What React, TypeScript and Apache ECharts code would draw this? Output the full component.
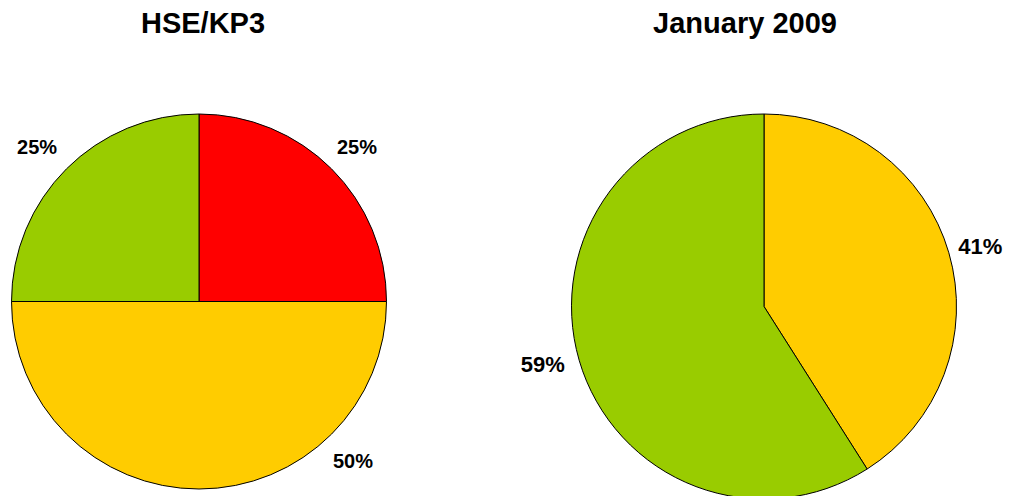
import React, { useEffect, useRef } from "react";
import * as echarts from "echarts";

const leftTitle = "HSE/KP3";
const rightTitle = "January 2009";
const leftNames = ["Red", "Yellow", "Green"];
const leftValues = [25, 50, 25];
const leftColors = ["#FF0000", "#FFCC00", "#99CC00"];
const rightNames = ["Yellow", "Green"];
const rightValues = [41, 59];
const rightColors = ["#FFCC00", "#99CC00"];

const FONT = "'Liberation Sans', Arial, Helvetica, sans-serif";

function pieSeries(names: string[], values: number[], colors: string[], center: number[], r: number) {
  return {
    type: "pie",
    center,
    radius: [0, r],
    startAngle: 90,
    clockwise: true,
    silent: true,
    label: { show: false },
    labelLine: { show: false },
    data: values.map((v, i) => ({
      name: names[i],
      value: v,
      itemStyle: { color: colors[i], borderColor: "#000", borderWidth: 1 },
    })),
  };
}

function labelRing(
  names: string[],
  values: number[],
  center: number[],
  r: number,
  fontSize: number,
  offsets: Record<number, number[]>
) {
  return {
    type: "pie",
    center,
    radius: [r * 1.13, r * 1.19],
    startAngle: 90,
    clockwise: true,
    silent: true,
    itemStyle: { color: "transparent", borderWidth: 0 },
    labelLine: { show: false },
    label: {
      show: true,
      position: "inside",
      formatter: "{c}%",
      color: "#000",
      fontFamily: FONT,
      fontWeight: "bold",
      fontSize,
    },
    data: values.map((v, i) => ({
      name: names[i],
      value: v,
      label: offsets[i] ? { offset: offsets[i] } : undefined,
    })),
  };
}

export default function App() {
  const ref = useRef<HTMLDivElement>(null);
  useEffect(() => {
    if (!ref.current) return;
    const chart = echarts.init(ref.current, null, { renderer: "svg" });
    chart.setOption({
      animation: false,
      backgroundColor: "#fff",
      title: [
        {
          text: leftTitle,
          left: 198,
          top: 3,
          textAlign: "center",
          textStyle: { fontFamily: FONT, fontWeight: "bold", fontSize: 29, color: "#000" },
        },
        {
          text: rightTitle,
          left: 740,
          top: 3,
          textAlign: "center",
          textStyle: { fontFamily: FONT, fontWeight: "bold", fontSize: 29, color: "#000" },
        },
      ],
      series: [
        pieSeries(leftNames, leftValues, leftColors, [199, 301.5], 187.5),
        labelRing(leftNames, leftValues, [199, 301.5], 187.5, 20, {
          0: [2, 1],
          1: [154, -61],
          2: [-6, 1],
        }),
        pieSeries(rightNames, rightValues, rightColors, [764, 306.5], 192.5),
        labelRing(rightNames, rightValues, [764, 306.5], 192.5, 22, {
          0: [-1, 3],
          1: [-4, -5],
        }),
      ],
    });
    return () => chart.dispose();
  }, []);
  return (
    <div
      ref={ref}
      style={{ position: "fixed", left: 0, top: 0, width: 1015, height: 496 }}
    />
  );
}
